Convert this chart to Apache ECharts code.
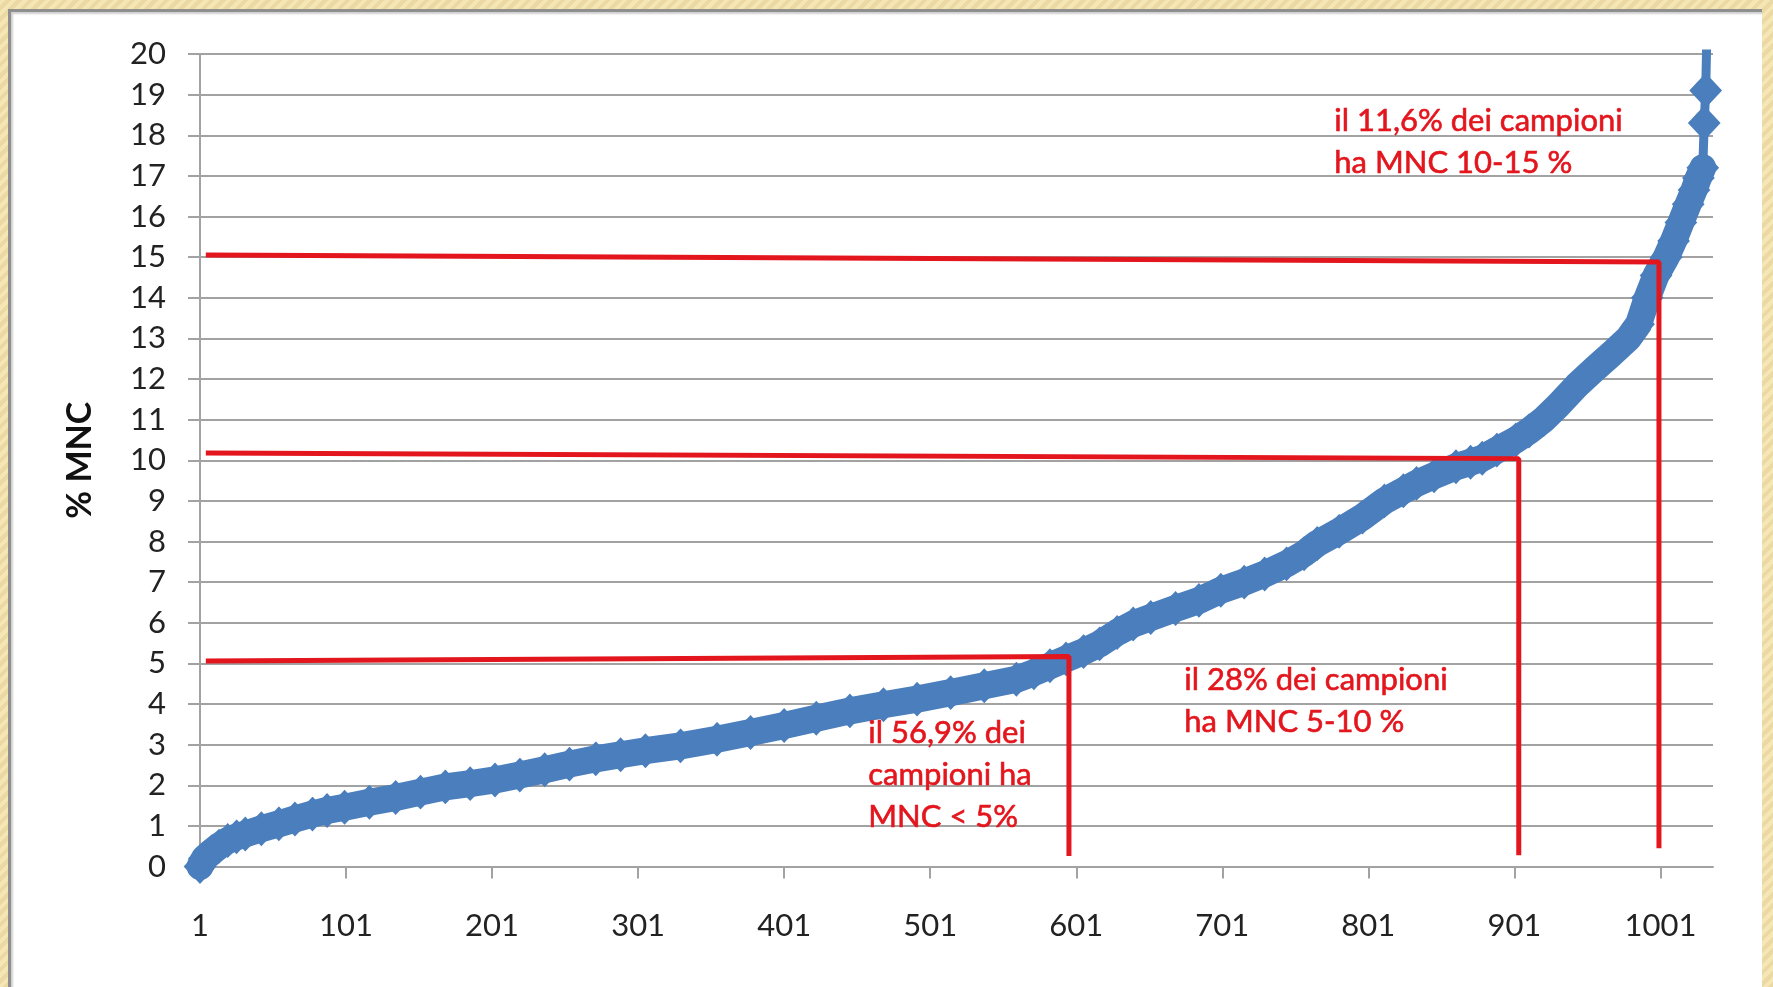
<!DOCTYPE html>
<html>
<head>
<meta charset="utf-8">
<script src="https://cdn.jsdelivr.net/npm/echarts@6/dist/echarts.min.js"></script>
<style>
html, body { margin: 0; padding: 0; width: 1773px; height: 987px; overflow: hidden; }
body { background: repeating-linear-gradient(135deg, #f5e6b6 0px, #f5e6b6 4px, #ecd8a2 4px, #ecd8a2 8px); }
#panel { position: absolute; left: 8px; top: 9px; width: 1754px; height: 978px; background: #ffffff;
  border-top: 3px solid #8f8f8f; border-left: 3px solid #8f8f8f; box-sizing: border-box;
  box-shadow: inset 2px 2px 2px #d0d0d0; }
#chart { position: absolute; left: 0; top: 0; width: 1773px; height: 987px; }
</style>
</head>
<body>
<div id="panel"></div>
<div id="chart"></div>
<script>
// ---- data ----
// sample number (rank of the sample) and its % MNC value
const sampleNo = [1, 4, 9, 14, 20, 26, 32, 43, 55, 66, 78, 88, 100, 117, 135, 152, 169, 186, 203, 220,
  237, 254, 272, 289, 306, 330, 355, 378, 401, 423, 446, 469, 492, 515, 538, 560, 572, 583, 594, 606,
  617, 629, 640, 652, 669, 685, 700, 716, 730, 745, 757, 766, 781, 797, 812, 825, 834, 846, 861, 871,
  879, 889, 902, 911, 921, 931, 944, 956, 967, 979, 986, 992, 998, 1005, 1010, 1015, 1020, 1024, 1027, 1030,
  1031, 1032, 1033];
const mncValues = [0.00, 0.20, 0.36, 0.50, 0.64, 0.73, 0.80, 0.93, 1.05, 1.17, 1.29, 1.38, 1.46, 1.58, 1.70, 1.83, 1.96, 2.04, 2.13, 2.25,
  2.38, 2.52, 2.65, 2.75, 2.85, 2.97, 3.13, 3.30, 3.47, 3.65, 3.83, 3.98, 4.12, 4.28, 4.45, 4.61, 4.77, 4.94, 5.11, 5.29,
  5.48, 5.76, 5.97, 6.13, 6.35, 6.55, 6.80, 7.00, 7.20, 7.45, 7.70, 7.95, 8.25, 8.60, 9.00, 9.25, 9.43, 9.62, 9.84, 9.95,
  10.05, 10.25, 10.50, 10.72, 11.00, 11.35, 11.85, 12.25, 12.60, 13.00, 13.35, 14.00, 14.55, 15.00, 15.40, 15.85, 16.30, 16.65, 16.95, 17.20,
  18.30, 19.10, 20.80];
const denseUntilSample = 1030;   // last sample of the dense (overlapping markers) part

const xTickLabels = [1, 101, 201, 301, 401, 501, 601, 701, 801, 901, 1001];
const xAxisMax = 1037;
const yMin = 0, yMax = 20, yStep = 1;

// hand-drawn red reference lines: start sample, left value, corner sample, corner value, bottom value
const refStartSample = [5, 5, 5];
const refLeftValue   = [5.06, 10.18, 15.05];
const refCornerSample = [596, 904, 1000];
const refCornerValue = [5.17, 10.04, 14.88];
const refBottomValue = [0.26, 0.28, 0.45];

const notesHigh = ['il 11,6% dei campioni', 'ha MNC 10-15 %'];
const notesMid  = ['il 28% dei campioni', 'ha MNC 5-10 %'];
const notesLow  = ['il 56,9% dei', 'campioni ha', 'MNC < 5%'];
const yAxisTitle = '% MNC';

// ---- build ----
const points = sampleNo.map((n, k) => [n, mncValues[k]]);
const densePoints = points.filter(p => p[0] <= denseUntilSample);

const BLUE = '#4a7ebd';
const RED = '#e3151d';
const GRID = '#a2a2a2';
const FONT = 'Lato, "Open Sans", sans-serif';

const refSeries = refStartSample.map((s, k) => ({
  type: 'line',
  data: [[s, refLeftValue[k]], [refCornerSample[k], refCornerValue[k]], [refCornerSample[k], refBottomValue[k]]],
  symbol: 'none',
  lineStyle: { color: RED, width: 5 },
  z: 5,
  silent: true,
  clip: false
}));

function note(lines, x, y) {
  return {
    type: 'text', left: x, top: y, silent: true, z: 10,
    style: { text: lines.join('\n'), fill: RED, font: '31px ' + FONT, lineHeight: 42,
      stroke: RED, lineWidth: 0.6 }
  };
}

const chart = echarts.init(document.getElementById('chart'), null, { renderer: 'canvas' });
chart.setOption({
  animation: false,
  backgroundColor: 'transparent',
  grid: { left: 200, top: 54, right: 60, bottom: 120.5, containLabel: false },
  xAxis: {
    type: 'value', min: 1, max: xAxisMax,
    axisLine: { show: true, lineStyle: { color: GRID, width: 2 } },
    axisTick: { show: true, length: 12, customValues: xTickLabels, lineStyle: { color: GRID, width: 2 } },
    axisLabel: { customValues: xTickLabels, formatter: v => String(v), margin: 44,
      fontSize: 31, fontFamily: FONT, color: '#222' },
    splitLine: { show: false }
  },
  yAxis: {
    type: 'value', min: yMin, max: yMax, interval: yStep,
    name: yAxisTitle, nameLocation: 'middle', nameRotate: 90, nameGap: 103,
    nameTextStyle: { fontSize: 34, fontWeight: 'bold', fontFamily: FONT, color: '#111' },
    axisLine: { show: true, lineStyle: { color: GRID, width: 2 } },
    axisTick: { show: true, length: 12, lineStyle: { color: GRID, width: 2 } },
    axisLabel: { margin: 34, fontSize: 31, fontFamily: FONT, color: '#222' },
    splitLine: { show: true, lineStyle: { color: GRID, width: 2 } }
  },
  series: [
    {
      type: 'line', data: densePoints, symbol: 'none',
      lineStyle: { color: BLUE, width: 27, join: 'round', cap: 'round' },
      z: 2, silent: true
    },
    {
      type: 'line', data: points, symbol: 'diamond', symbolSize: [30, 32], showAllSymbol: true,
      itemStyle: { color: BLUE, borderColor: BLUE, borderWidth: 2 }, lineStyle: { color: BLUE, width: 9 },
      z: 3, silent: true
    }
  ].concat(refSeries),
  graphic: [
    note(notesHigh, 1334, 100),
    note(notesMid, 1184, 659),
    note(notesLow, 868, 712)
  ]
});
</script>
</body>
</html>
